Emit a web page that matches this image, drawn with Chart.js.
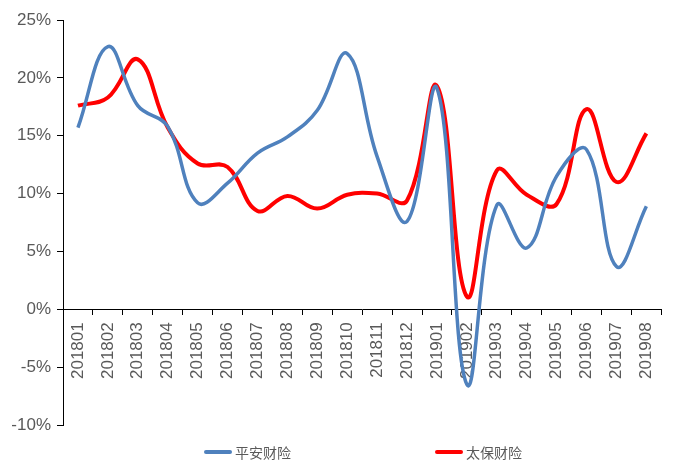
<!DOCTYPE html>
<html>
<head>
<meta charset="utf-8">
<script src="https://cdn.jsdelivr.net/npm/chart.js@4/dist/chart.umd.min.js"></script>
<style>
  html, body { margin: 0; padding: 0; background: #fff; }
  #wrap { position: relative; width: 675px; height: 465px; }
  canvas { position: absolute; left: 0; top: 0; }
  .lg { position: absolute; top: 443px; height: 18px; display: flex; align-items: center;
        font-family: "Noto Sans CJK SC", sans-serif; font-size: 14px; color: #595959; }
  .lg span.sw { display: inline-block; width: 28px; height: 4px; border-radius: 2px; margin-right: 3px; }
</style>
</head>
<body>
<div id="wrap">
  <canvas id="c" width="675" height="465"></canvas>
  <div class="lg" style="left:204px;"><span class="sw" style="background:#4F81BD"></span><span id="l0"></span></div>
  <div class="lg" style="left:435px;"><span class="sw" style="background:#FF0000"></span><span id="l1"></span></div>
</div>
<script>
const categories = ['201801','201802','201803','201804','201805','201806','201807','201808','201809','201810',
                    '201811','201812','201901','201902','201903','201904','201905','201906','201907','201908'];
const seriesNames = ['平安财险', '太保财险'];
const pingan = [15.7, 22.7, 17.6, 15.8, 9.2, 10.9, 13.5, 14.9, 17.2, 22.1,
                13.2, 7.6, 19.1, -6.5, 9.0, 5.3, 11.5, 13.8, 3.7, 8.9];
const taibao = [17.6, 18.3, 21.6, 15.7, 12.6, 12.3, 8.5, 9.8, 8.7, 9.9,
                10.0, 9.4, 19.3, 1.1, 12.0, 9.9, 9.1, 17.3, 11.0, 15.2];
const yTicks = [-10, -5, 0, 5, 10, 15, 20, 25];

document.getElementById('l0').textContent = seriesNames[0];
document.getElementById('l1').textContent = seriesNames[1];

new Chart(document.getElementById('c'), {
  type: 'line',
  data: {
    labels: categories,
    datasets: [
      { label: seriesNames[0], data: pingan, borderColor: '#4F81BD', backgroundColor: '#4F81BD',
        borderWidth: 3.5, pointRadius: 0, tension: 0.4, fill: false },
      { label: seriesNames[1], data: taibao, borderColor: '#FF0000', backgroundColor: '#FF0000',
        borderWidth: 4, pointRadius: 0, tension: 0.4, fill: false }
    ]
  },
  options: {
    responsive: false,
    animation: false,
    devicePixelRatio: 1,
    layout: { padding: { left: 0, right: 9, top: 20, bottom: 40 } },
    plugins: { legend: { display: false }, tooltip: { enabled: false } },
    scales: {
      x: {
        position: { y: 0 },
        offset: true,
        afterFit: (s) => { s.height = 0; },
        grid: { offset: true, drawOnChartArea: false, drawTicks: true, tickLength: 5, color: '#000' },
        border: { display: true, color: '#000', width: 1 },
        ticks: { autoSkip: false, minRotation: 90, maxRotation: 90, padding: 8,
                 color: '#595959', font: { family: 'Liberation Sans', size: 17 } }
      },
      y: {
        min: -10, max: 25,
        afterFit: (s) => { s.width = 63; },
        afterBuildTicks: (s) => { s.ticks = yTicks.map(v => ({ value: v })); },
        grid: { drawOnChartArea: false, drawTicks: true, tickLength: 6, color: '#000' },
        border: { display: true, color: '#000', width: 1 },
        ticks: { padding: 6, color: '#595959', font: { family: 'Liberation Sans', size: 17 },
                 callback: (v) => v + '%' }
      }
    }
  }
});
</script>
</body>
</html>
